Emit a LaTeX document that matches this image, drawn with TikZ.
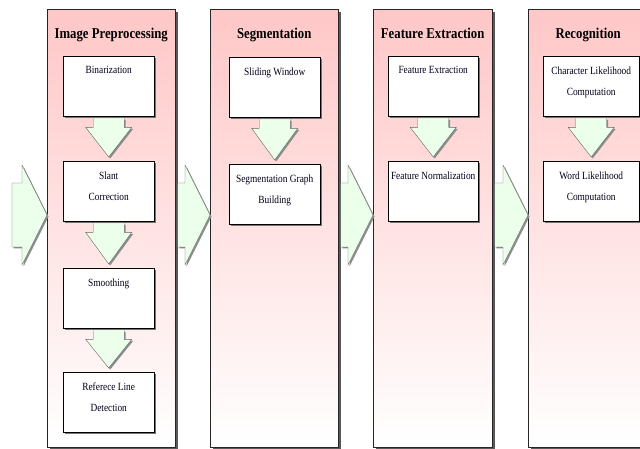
\documentclass[tikz,border=0pt]{standalone}
\usepackage{fontspec}
\setmainfont{Liberation Serif}[FakeStretch=0.85]
\usetikzlibrary{positioning, calc, shadows}

% block arrow pointing down, from the bottom of one box to the top of the next
\newcommand{\flowdown}[2]{%
    \draw[blockarr] ($(#1.south)+(-15.5,2)$) -- ($(#1.south)+(-15.5,11)$) -- ($(#1.south)+(-23,11)$)
        -- ($(#2.north)+(0,-4)$) -- ($(#1.south)+(23,11)$) -- ($(#1.south)+(15.5,11)$) -- ($(#1.south)+(15.5,2)$);}
% block arrow pointing right, from a tail coordinate to a tip coordinate
\newcommand{\flowright}[3][]{%
    \draw[blockarr] ($(#2)+(0,-32)$) -- ($(#3)+(-25,-32)$) -- ($(#3)+(-25,-50)$)
        -- (#3) -- ($(#3)+(-25,50)$) -- ($(#3)+(-25,32)$) -- ($(#2)+(0,32)$) #1;}

\begin{document}
\begin{tikzpicture}[
        x=1pt, y=-1pt,
        panel/.style={draw=black!85, top color=red!22, bottom color=white, minimum width=#1, minimum height=438pt,
            anchor=north west, inner sep=0pt,
            drop shadow={shadow xshift=2.5pt, shadow yshift=-2.5pt, fill=black!65, opacity=1}},
        paneltitle/.style={anchor=base, font=\fontsize{15}{18}\selectfont\bfseries},
        stepbox/.style={draw=black, fill=white, minimum width=91pt, minimum height=60pt, anchor=north west, inner sep=0pt,
            drop shadow={shadow xshift=2pt, shadow yshift=-2pt, fill=black!55, opacity=1},
            label={[boxtext]north:#1}},
        boxtext/.style={anchor=north, yshift=-7pt, align=center, text=black!90!blue, font=\fontsize{11}{21}\selectfont},
        blockarr/.style={draw=black!60, fill=green!8, line join=miter,
            drop shadow={shadow xshift=1.5pt, shadow yshift=-1.5pt, fill=black!45, opacity=1}}
    ]
    \useasboundingbox (0,0) rectangle (640,449);
    \clip (0,0) rectangle (640,449);

    % --- Panels ---
    \node[panel=128pt] (pre) at (47,9) {};
    \node[panel=128pt] (seg) at (210,9) {};
    \node[panel=119pt] (fe) at (373,9) {};
    \node[panel=120pt] (rec) at (528,9) {};

    \node[paneltitle] (pretitle) at ($(pre.north)+(0,30)$) {Image Preprocessing};
    \node[paneltitle] (segtitle) at ($(seg.north)+(0,30)$) {Segmentation};
    \node[paneltitle] (fetitle) at ($(fe.north)+(0,30)$) {Feature Extraction};
    \node[paneltitle] (rectitle) at ($(rec.north)+(0,30)$) {Recognition};

    % --- Image Preprocessing ---
    \node[stepbox={Binarization}] (bin) at (63,56) {};
    \node[stepbox={Slant\\Correction}] (slant) at (63,161) {};
    \node[stepbox={Smoothing}] (smooth) at (63,268) {};
    \node[stepbox={Referece Line\\Detection}] (refline) at (63,372) {};
    \flowdown{bin}{slant}
    \flowdown{slant}{smooth}
    \flowdown{smooth}{refline}

    % --- Segmentation ---
    \node[stepbox={Sliding Window}] (window) at (229,57) {};
    \node[stepbox={Segmentation Graph\\Building}] (graph) at (229,164) {};
    \flowdown{window}{graph}

    % --- Feature Extraction ---
    \node[stepbox={Feature Extraction}, minimum width=90pt] (extract) at (388,56) {};
    \node[stepbox={Feature Normalization}, minimum width=90pt] (norm) at (388,161) {};
    \flowdown{extract}{norm}

    % --- Recognition ---
    \node[stepbox={Character Likelihood\\Computation}, minimum width=96pt] (charlik) at (543,56) {};
    \node[stepbox={Word Likelihood\\Computation}, minimum width=96pt] (wordlik) at (543,161) {};
    \flowdown{charlik}{wordlik}

    % --- Arrows between the stages ---
    \coordinate (in) at (12,215);
    \coordinate (tail1) at ($(pre.east |- in)+(2.5,0)$);
    \coordinate (tail2) at ($(seg.east |- in)+(2.5,0)$);
    \coordinate (tail3) at ($(fe.east |- in)+(2.5,0)$);
    \flowright[-- cycle]{in}{pre.west |- in}
    \flowright{tail1}{seg.west |- in}
    \flowright{tail2}{fe.west |- in}
    \flowright{tail3}{rec.west |- in}

\end{tikzpicture}
\end{document}
